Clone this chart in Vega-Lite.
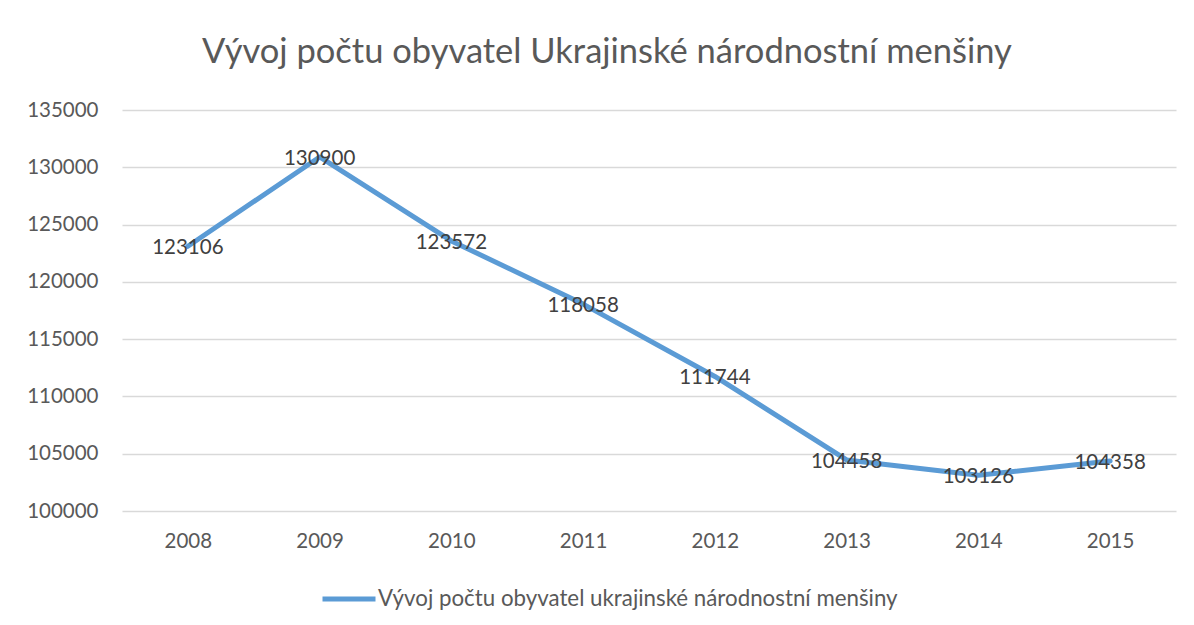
{
  "$schema": "https://vega.github.io/schema/vega-lite/v6.json",
  "width": 1054,
  "height": 401,
  "autosize": {"type": "none"},
  "padding": {"left": 122, "top": 110, "right": 18, "bottom": 114},
  "background": "white",
  "config": {"view": {"stroke": null}, "font": "Lato"},
  "title": {
    "text": "Vývoj počtu obyvatel Ukrajinské národnostní menšiny",
    "font": "Lato",
    "fontSize": 34.5,
    "fontWeight": "normal",
    "color": "#595959",
    "anchor": "middle",
    "frame": "group",
    "dx": -42,
    "offset": 30
  },
  "data": {
    "values": [
      {"year": "2008", "value": 123106, "series": "Vývoj počtu obyvatel ukrajinské národnostní menšiny"},
      {"year": "2009", "value": 130900, "series": "Vývoj počtu obyvatel ukrajinské národnostní menšiny"},
      {"year": "2010", "value": 123572, "series": "Vývoj počtu obyvatel ukrajinské národnostní menšiny"},
      {"year": "2011", "value": 118058, "series": "Vývoj počtu obyvatel ukrajinské národnostní menšiny"},
      {"year": "2012", "value": 111744, "series": "Vývoj počtu obyvatel ukrajinské národnostní menšiny"},
      {"year": "2013", "value": 104458, "series": "Vývoj počtu obyvatel ukrajinské národnostní menšiny"},
      {"year": "2014", "value": 103126, "series": "Vývoj počtu obyvatel ukrajinské národnostní menšiny"},
      {"year": "2015", "value": 104358, "series": "Vývoj počtu obyvatel ukrajinské národnostní menšiny"}
    ]
  },
  "encoding": {
    "x": {
      "field": "year",
      "type": "ordinal",
      "scale": {"type": "point", "padding": 0.5},
      "axis": {
        "title": null,
        "labelAngle": 0,
        "labelFont": "Lato",
        "labelFontSize": 20.5,
        "labelColor": "#595959",
        "labelPadding": 20,
        "ticks": false,
        "domain": false,
        "grid": false
      }
    },
    "y": {
      "field": "value",
      "type": "quantitative",
      "scale": {"domain": [100000, 135000], "zero": false, "nice": false},
      "axis": {
        "title": null,
        "values": [100000, 105000, 110000, 115000, 120000, 125000, 130000, 135000],
        "format": "d",
        "labelFont": "Lato",
        "labelFontSize": 20.5,
        "labelColor": "#595959",
        "labelPadding": 24,
        "ticks": false,
        "domain": false,
        "grid": true,
        "gridColor": "#D9D9D9",
        "gridWidth": 1.5
      }
    }
  },
  "layer": [
    {
      "mark": {"type": "line", "strokeWidth": 5, "strokeCap": "round", "strokeJoin": "round"},
      "encoding": {
        "color": {
          "field": "series",
          "type": "nominal",
          "scale": {"range": ["#5B9BD5"]},
          "legend": {
            "title": null,
            "orient": "none",
            "legendX": 198,
            "legendY": 460,
            "symbolType": "stroke",
            "symbolSize": 2809,
            "symbolStrokeWidth": 5,
            "labelFont": "Lato",
            "labelFontSize": 22.3,
            "labelColor": "#595959",
            "labelOffset": 0,
            "labelLimit": 800
          }
        }
      }
    },
    {
      "mark": {"type": "text", "font": "Lato", "fontSize": 20.5, "color": "#404040", "baseline": "middle", "align": "center", "dy": 2},
      "encoding": {
        "text": {"field": "value", "type": "quantitative", "format": "d"}
      }
    }
  ]
}
